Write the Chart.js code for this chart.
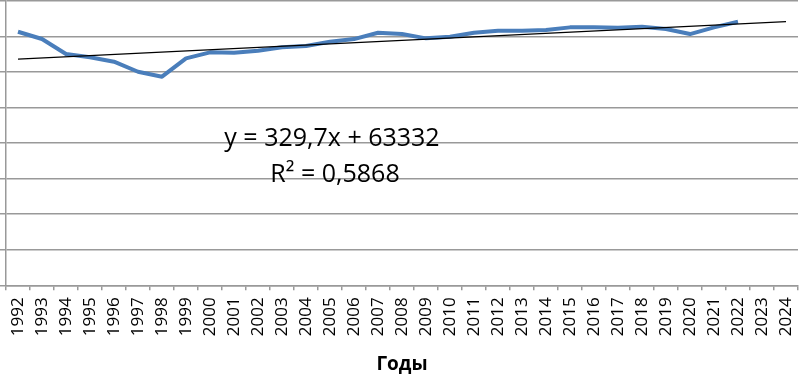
<!DOCTYPE html>
<html><head><meta charset="utf-8">
<script src="https://cdn.jsdelivr.net/npm/chart.js@4.4.1/dist/chart.umd.min.js"></script>
<style>html,body{margin:0;padding:0;background:#fff;overflow:hidden}canvas{display:block}</style>
</head><body><canvas id="c" width="800" height="376" style="width:800px;height:376px"></canvas>
<script>
const years = ['1992','1993','1994','1995','1996','1997','1998','1999','2000','2001','2002','2003','2004','2005','2006','2007','2008','2009','2010','2011','2012','2013','2014','2015','2016','2017','2018','2019','2020','2021','2022','2023','2024'];
const values = [71350,69300,65080,64150,62920,60100,58700,63870,65560,65440,66010,66960,67330,68540,69290,71060,70700,69490,69940,71060,71630,71630,71820,72580,72580,72470,72750,72100,70700,72580,74160];
const trendSlope = 329.7;
const trendIntercept = 63332;
const trendLabel = 'y = 329,7x + 63332';
const r2Label = 'R\u00B2 = 0,5868';
const yMin = 0, yMax = 80000, yStep = 10000;
const xTitle = 'Годы';

const trendData = years.map((_, i) => (i === 0 || i === years.length - 1) ? trendIntercept + trendSlope * (i + 1) : null);

Chart.defaults.font.family = '"Open Sans", sans-serif';
Chart.defaults.color = '#000';

const labelPlugin = {
  id: 'eqLabel',
  afterDraw(chart) {
    const ctx = chart.ctx;
    ctx.save();
    ctx.fillStyle = '#000';
    ctx.font = '25px "Open Sans", sans-serif';
    ctx.textAlign = 'center';
    ctx.textBaseline = 'alphabetic';
    ctx.fillText(trendLabel, 332, 146);
    ctx.fillText(r2Label, 335, 182);
    ctx.restore();
  }
};

new Chart(document.getElementById('c'), {
  type: 'line',
  data: {
    labels: years,
    datasets: [
      { data: values, borderColor: '#4a7ebb', borderWidth: 4, pointRadius: 0, tension: 0, fill: false, borderJoinStyle: 'round', order: 2 },
      { data: trendData, borderColor: '#000', borderWidth: 1.2, pointRadius: 0, spanGaps: true, fill: false, order: 1 }
    ]
  },
  options: {
    responsive: false,
    animation: false,
    layout: { padding: { left: 0, top: 1, right: 2, bottom: 0 } },
    plugins: { legend: { display: false }, tooltip: { enabled: false } },
    scales: {
      x: {
        offset: true,
        afterFit(scale) { scale.paddingRight = 0; scale.paddingLeft = 0; },
        grid: { offset: true, drawOnChartArea: false, drawTicks: true, tickLength: 5, color: '#999', lineWidth: 1.5 },
        border: { color: '#999', width: 1.5 },
        ticks: { minRotation: 90, maxRotation: 90, autoSkip: false, padding: 7, font: { size: 17 }, color: '#000' },
        title: { display: true, text: xTitle, font: { size: 19, weight: 'bold' }, color: '#000', padding: { top: 10, bottom: 0 } }
      },
      y: {
        min: yMin, max: yMax,
        ticks: { stepSize: yStep, display: false },
        grid: { color: '#999', lineWidth: 1.5, tickLength: 6 },
        border: { color: '#999', width: 1.5 }
      }
    }
  },
  plugins: [labelPlugin]
});
</script></body></html>
